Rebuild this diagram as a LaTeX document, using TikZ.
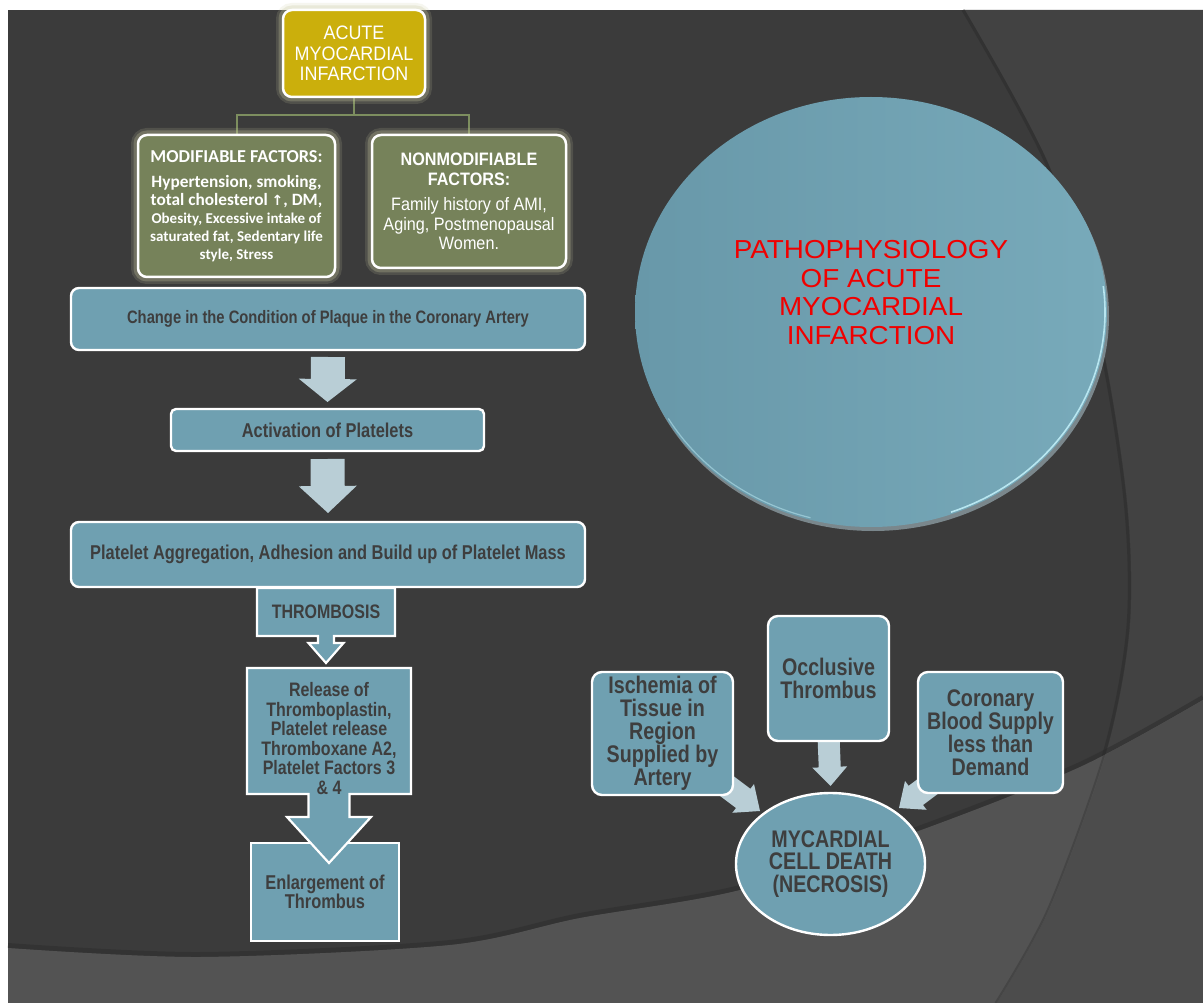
\documentclass[tikz,border=0pt]{standalone}
\usepackage{fontspec}
\setmainfont{Liberation Sans}
\newfontfamily\nar{Liberation Sans}[FakeStretch=0.82]
\newfontfamily\semi{Liberation Sans}[FakeStretch=0.9]
\newfontfamily\amifnt{Liberation Sans}[FakeStretch=0.92]
\newfontfamily\widefnt{Liberation Sans}[FakeStretch=1.07]
\newfontfamily\calfnt{Carlito}
\newfontfamily\dvs{DejaVu Sans}
\usetikzlibrary{arrows.meta,shapes.geometric,calc}

\definecolor{bgdark}{HTML}{3B3B3B}
\definecolor{bgstreak}{HTML}{424242}
\definecolor{bglight}{HTML}{535353}
\definecolor{bglightR}{HTML}{4C4C4C}
\definecolor{bgshadow}{HTML}{2C2C2C}
\definecolor{boxteal}{HTML}{6FA0B1}
\definecolor{arrowlt}{HTML}{B9CED6}
\definecolor{txtdark}{HTML}{3E3E3E}
\definecolor{olivebox}{HTML}{76825A}
\definecolor{goldbox}{HTML}{CBAF0C}
\definecolor{connline}{HTML}{7D8E5F}
\definecolor{glowc}{HTML}{C8C8A0}
\definecolor{redtxt}{HTML}{F00000}
\definecolor{discA}{HTML}{6898A9}
\definecolor{discB}{HTML}{78AABA}
\definecolor{discshadow}{HTML}{7A878C}
\definecolor{discrim}{HTML}{B8E6F0}

\pgfdeclarelayer{bglayer}
\pgfdeclarelayer{arrowlayer}
\pgfsetlayers{bglayer,arrowlayer,main}

% block arrow: start, tip, shaft half width, head half width, head length
\newcommand{\blockarr}[5]{%
  \coordinate (bah) at ($(#2)!#5!(#1)$);
  \fill[arrowlt] ($(#1)!#3!90:(#2)$) -- ($(bah)!#3!90:(#2)$) -- ($(bah)!#4!90:(#2)$)
    -- (#2) -- ($(bah)!#4!-90:(#2)$) -- ($(bah)!#3!-90:(#2)$) -- ($(#1)!#3!-90:(#2)$) -- cycle;}

\tikzset{
  glow/.style={preaction={draw=glowc, draw opacity=0.16, line width=14pt},
               preaction={draw=glowc, draw opacity=0.28, line width=9pt}},
  gbox/.style={glow, draw=white, line width=2.5pt, rounded corners=9pt, inner sep=0pt,
               outer sep=0pt, align=center, text=white},
  tbox/.style={draw=white, line width=2.4pt, fill=boxteal, inner sep=0pt, outer sep=0pt,
               align=center, text=txtdark},
  tshape/.style={draw=white, line width=2.2pt, fill=boxteal, line join=miter},
  tlabel/.style={inner sep=0pt, outer sep=0pt, align=center, text=txtdark},
  phantom/.style={inner sep=0pt, outer sep=0pt},
  conn/.style={draw=connline, line width=2pt},
}

\begin{document}
\begin{tikzpicture}[x=1pt,y=-1pt]
\useasboundingbox (0,0) rectangle (1203,1003);

% ---------- background ----------
\begin{pgfonlayer}{bglayer}
\fill[white] (0,0) rectangle (1203,1003);
\fill[bgdark] (8,10) rectangle (1203,1003);
\fill[bgstreak] plot[smooth] coordinates {(965,10) (1050,167) (1100,333) (1127,500) (1130,626) (1107,750) (1050,908) (997,1003)}
  -- (1203,1003) -- (1203,10) -- cycle;
\draw[bgshadow, line width=3pt, opacity=0.6, xshift=-2pt] plot[smooth] coordinates {(965,10) (1050,167) (1100,333) (1127,500) (1130,626) (1107,750) (1050,908) (997,1003)};
\draw[bgshadow, line width=5pt, opacity=0.5, yshift=2.5pt] plot[smooth] coordinates {(8,948) (200,957) (450,945) (580,918) (740,890) (913,833) (1080,767) (1203,700)};
\fill[bglight] plot[smooth] coordinates {(8,948) (200,957) (450,945) (580,918) (740,890) (913,833) (1080,767) (1203,700)}
  -- (1203,1003) -- (8,1003) -- cycle;
\begin{scope}
\clip plot[smooth] coordinates {(8,948) (200,957) (450,945) (580,918) (740,890) (913,833) (1080,767) (1203,700)}
  -- (1203,1003) -- (8,1003) -- cycle;
\fill[bglightR] plot[smooth] coordinates {(965,10) (1050,167) (1100,333) (1127,500) (1130,626) (1107,750) (1050,908) (997,1003)}
  -- (1203,1003) -- (1203,10) -- cycle;
\draw[bgshadow, line width=2pt, opacity=0.35, xshift=-1.5pt] plot[smooth] coordinates {(965,10) (1050,167) (1100,333) (1127,500) (1130,626) (1107,750) (1050,908) (997,1003)};
\end{scope}
\end{pgfonlayer}

% ---------- top: AMI and factors ----------
\node[gbox, fill=goldbox, minimum width=142pt, minimum height=87pt,
      font=\amifnt\fontsize{19.5}{20.5}\selectfont] (ami) at (354,53.5)
  {ACUTE\\MYOCARDIAL\\INFARCTION};

\node[gbox, fill=olivebox, minimum width=197pt, minimum height=142pt,
      font=\calfnt\bfseries\fontsize{17.3}{18}\selectfont] (mod) at (236.5,206)
  {{\fontsize{18.2}{18}\selectfont MODIFIABLE FACTORS:}\\[7pt]
   Hypertension, smoking,\\
   total cholesterol {\dvs\fontsize{14}{18}\selectfont ↑}, DM,\\
   {\fontsize{15}{18}\selectfont Obesity, Excessive intake of}\\
   {\fontsize{15}{18}\selectfont saturated fat, Sedentary life}\\
   {\fontsize{15}{18}\selectfont style, Stress}};

\node[gbox, fill=olivebox, minimum width=194pt, minimum height=133pt,
      font=\semi\fontsize{18}{19.5}\selectfont] (nonmod) at (469,201.5)
  {\textbf{NONMODIFIABLE}\\\textbf{FACTORS:}\\[6pt]
   Family history of AMI,\\Aging, Postmenopausal\\Women.};

\begin{pgfonlayer}{arrowlayer}
\draw[conn] (ami.south) -- ++(0,18) coordinate (cj) -| (mod.north);
\draw[conn] (cj) -| (nonmod.north);
\end{pgfonlayer}

% ---------- left chain ----------
\node[tbox, rounded corners=8pt, minimum width=514pt, minimum height=62pt,
      font=\nar\bfseries\fontsize{18}{20}\selectfont] (change) at (328,319)
  {Change in the Condition of Plaque in the Coronary Artery};

\node[tbox, rounded corners=5pt, minimum width=313pt, minimum height=42pt,
      font=\nar\bfseries\fontsize{20}{22}\selectfont] (act) at (327.5,430)
  {Activation of Platelets};

\node[tbox, rounded corners=8pt, minimum width=514pt, minimum height=65pt,
      font=\nar\bfseries\fontsize{20}{22}\selectfont] (plat) at (328,554.5)
  {Platelet Aggregation, Adhesion and Build up of Platelet Mass};

\coordinate (a1s) at ($(change.south)+(0,7)$);
\coordinate (a1t) at ($(act.north)+(0,-7)$);
\blockarr{a1s}{a1t}{17pt}{29pt}{23pt}
\coordinate (a2s) at ($(act.south)+(0,8)$);
\coordinate (a2t) at ($(plat.north)+(0,-9)$);
\blockarr{a2s}{a2t}{17pt}{29pt}{27pt}

% THROMBOSIS with down-arrow callout
\node[phantom, minimum width=138pt, minimum height=48pt] (thromb) at (326,612) {};
\draw[tshape] (thromb.north west) -- (thromb.north east) -- (thromb.south east)
  -- ($(thromb.south)+(8,0)$) -- ($(thromb.south)+(8,7)$) -- ($(thromb.south)+(17.5,7)$)
  -- ($(thromb.south)+(0,27)$)
  -- ($(thromb.south)+(-17.5,7)$) -- ($(thromb.south)+(-8,7)$) -- ($(thromb.south)+(-8,0)$)
  -- (thromb.south west) -- cycle;
\node[tlabel, font=\nar\bfseries\fontsize{19.5}{20}\selectfont] at (thromb.center) {THROMBOSIS};

% Enlargement of thrombus
\node[tbox, minimum width=148pt, minimum height=98pt,
      font=\nar\bfseries\fontsize{20}{19}\selectfont] (enl) at (325,892)
  {Enlargement of\\Thrombus};

% Release box with big down-arrow callout
\node[phantom, minimum width=164pt, minimum height=126pt] (rel) at (329,731) {};
\draw[tshape] (rel.north west) -- (rel.north east) -- (rel.south east)
  -- ($(rel.south)+(20.5,0)$) -- ($(rel.south)+(20.5,23)$) -- ($(rel.south)+(42,23)$)
  -- ($(rel.south)+(0,69)$)
  -- ($(rel.south)+(-42,23)$) -- ($(rel.south)+(-20.5,23)$) -- ($(rel.south)+(-20.5,0)$)
  -- (rel.south west) -- cycle;
\node[tlabel, font=\nar\bfseries\fontsize{19.5}{19.5}\selectfont] at ($(rel.center)+(0,7.5)$)
  {Release of\\Thromboplastin,\\Platelet release\\Thromboxane A2,\\Platelet Factors 3\\\& 4};

% ---------- title disc ----------
\fill[discshadow] (873,316) ellipse [x radius=236pt, y radius=215pt];
\node[ellipse, minimum width=472pt, minimum height=430pt, inner sep=0pt, outer sep=0pt,
      left color=discA, right color=discB] (disc) at (871,312) {};
\draw[discrim, line width=1.6pt] ($(disc.center)+(7:234pt and 213pt)$)
  arc[start angle=7, end angle=-70, x radius=234pt, y radius=213pt];
\draw[discrim, line width=1.2pt, draw opacity=0.55] ($(disc.center)+(-105:234pt and 213pt)$)
  arc[start angle=-105, end angle=-150, x radius=234pt, y radius=213pt];
\node[font=\widefnt\fontsize{26}{28.5}\selectfont, text=redtxt, align=center, inner sep=0pt]
  (title) at ($(disc.center)+(0,-19.5)$)
  {PATHOPHYSIOLOGY\\OF ACUTE\\MYOCARDIAL\\INFARCTION};

% ---------- right group ----------
\node[tbox, rounded corners=10pt, minimum width=141pt, minimum height=123pt,
      font=\nar\bfseries\fontsize{24}{23}\selectfont] (isch) at (662.5,733.5)
  {Ischemia of\\Tissue in\\Region\\Supplied by\\Artery};
\node[tbox, rounded corners=10pt, minimum width=121pt, minimum height=125pt,
      font=\nar\bfseries\fontsize{24}{23}\selectfont] (occl) at (828.5,678.5)
  {Occlusive\\Thrombus};
\node[tbox, rounded corners=10pt, minimum width=145pt, minimum height=121pt,
      font=\nar\bfseries\fontsize{24}{23}\selectfont] (coro) at (990.5,732.5)
  {Coronary\\Blood Supply\\less than\\Demand};
\node[tbox, ellipse, minimum width=189pt, minimum height=142pt,
      font=\nar\bfseries\fontsize{24}{22.5}\selectfont] (necro) at (830.5,864)
  {MYCARDIAL\\CELL DEATH\\(NECROSIS)};

\begin{pgfonlayer}{arrowlayer}
\coordinate (b1s) at ($(isch.south east)+(-21,-20)$);
\coordinate (b1t) at ($(necro.center)+(-70.5,-53)$);
\blockarr{b1s}{b1t}{12pt}{18pt}{21pt}
\coordinate (b2s) at ($(occl.south)+(0,-5)$);
\coordinate (b2t) at ($(necro.north)+(0,-7)$);
\blockarr{b2s}{b2t}{11pt}{17.5pt}{19pt}
\coordinate (b3s) at ($(coro.south west)+(29,-21)$);
\coordinate (b3t) at ($(necro.center)+(68.5,-56)$);
\blockarr{b3s}{b3t}{12pt}{18pt}{21pt}
\end{pgfonlayer}

\end{tikzpicture}
\end{document}
